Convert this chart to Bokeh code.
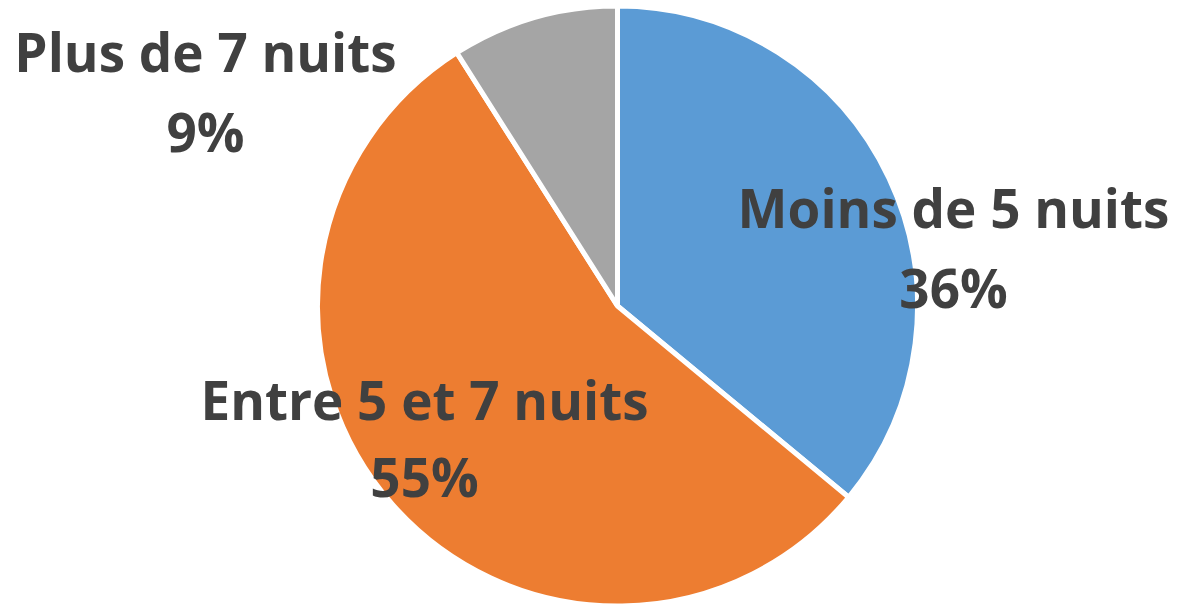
import numpy as np
from bokeh.plotting import figure
from bokeh.models import ColumnDataSource, Range1d
from bokeh.core.properties import value
from bokeh.embed import file_html
from bokeh.resources import INLINE

categories = ["Moins de 5 nuits", "Entre 5 et 7 nuits", "Plus de 7 nuits"]
shares = [36, 55, 9]
colors = ["#5B9BD5", "#ED7D31", "#A5A5A5"]

W, H = 1188, 604

def fx(px):
    return px

def fy(py):
    return H - py

# pie geometry (page pixels)
cx, cy, r = fx(617), fy(305.5), 300

vals = np.array(shares, dtype=float)
frac = vals / vals.sum()
cum_after = np.cumsum(frac)
cum_before = cum_after - frac
start_clock = np.pi / 2 - 2 * np.pi * cum_before
end_clock = np.pi / 2 - 2 * np.pi * cum_after

src = ColumnDataSource(dict(
    start=end_clock, end=start_clock, color=colors, cat=categories,
))

p = figure(width=W, height=H, output_backend="svg", toolbar_location=None,
           x_range=Range1d(0, W), y_range=Range1d(0, H),
           min_border=0, outline_line_color=None)
p.axis.visible = False
p.grid.visible = False
p.background_fill_color = "white"
p.border_fill_color = "white"

p.wedge(x=cx, y=cy, radius=r, start_angle="start", end_angle="end",
        fill_color="color", line_color="white", line_width=5, source=src)

# label positions (page pixels): center x, baseline of name, baseline of percent
label_pos = {
    "Moins de 5 nuits": (953, 207, 287),
    "Entre 5 et 7 nuits": (424, 399, 476),
    "Plus de 7 nuits": (205, 51, 131),
}
lx = [fx(label_pos[c][0]) for c in categories]
ly1 = [fy(label_pos[c][1]) for c in categories]
ly2 = [fy(label_pos[c][2]) for c in categories]
pct = [f"{int(v)}%" for v in shares]

lsrc = ColumnDataSource(dict(x=lx, y1=ly1, y2=ly2, name=categories, pct=pct))
common = dict(text_font=value("Open Sans"), text_font_style="bold",
              text_font_size="53px", text_color="#404040",
              text_align="center", text_baseline="alphabetic", source=lsrc)
p.text(x="x", y="y1", text="name", **common)
p.text(x="x", y="y2", text="pct", **common)

open("out.html", "w").write(file_html(p, INLINE))
